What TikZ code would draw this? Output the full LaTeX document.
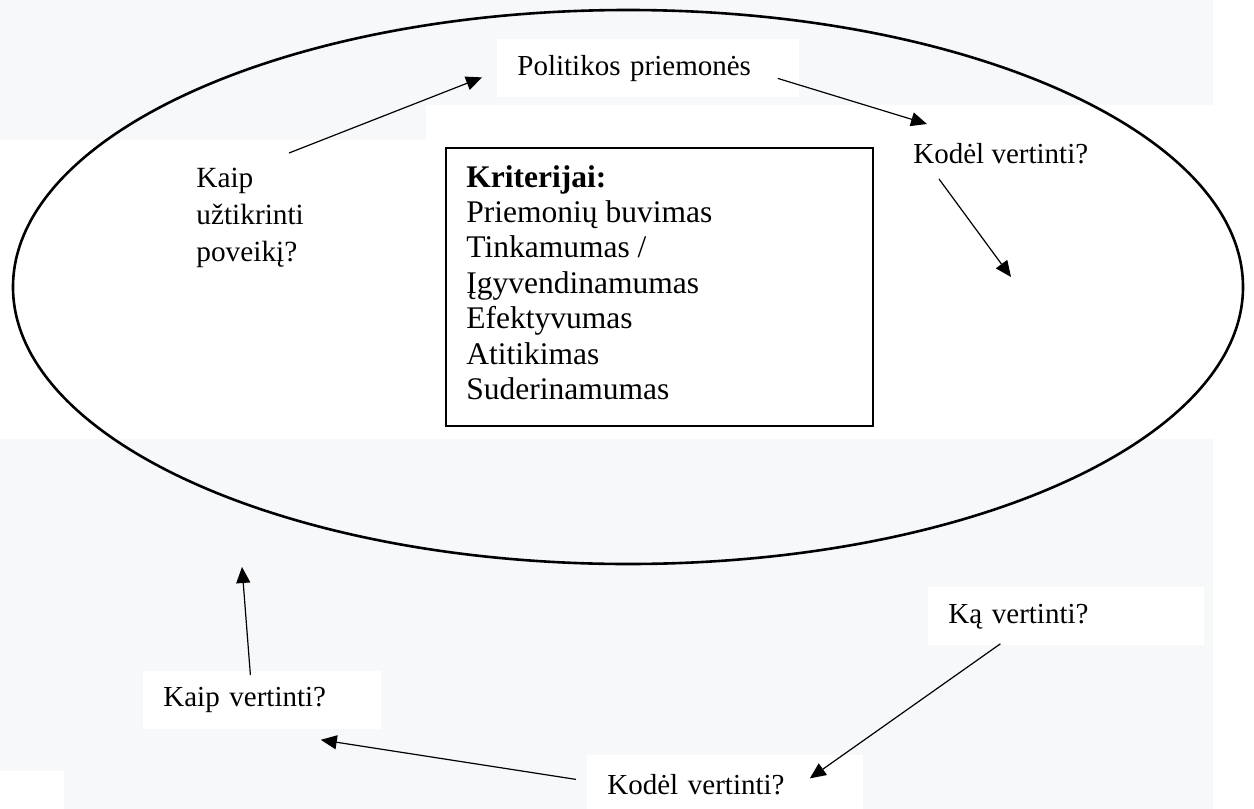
\documentclass[tikz,border=0pt]{standalone}
\usepackage{fontspec}
\setmainfont{Liberation Serif}
\usepackage{xcolor}
\definecolor{BgGray}{RGB}{247,248,250}
\usepackage{tikz}
\usetikzlibrary{shapes.geometric}
\usetikzlibrary{arrows.meta}
\tikzstyle{Box}=[fill=white,anchor=north west,inner xsep=10pt,inner ysep=0pt,
minimum height=29pt,align=left,font=\fontsize{14.5}{17.4}\selectfont]
\tikzstyle{Label}=[anchor=base west,inner sep=0pt,font=\fontsize{14.5}{17.4}\selectfont]
\tikzstyle{Edge}=[draw=black,line width=0.6pt,-{Triangle[length=8pt,width=7pt]}]
\tikzstyle{Frame}=[draw=black,line width=1.1pt,fill=white,anchor=north west,inner sep=0pt]
\tikzstyle{Cycle}=[draw=black,ellipse,line width=1.3pt,inner sep=0pt]

\begin{document}
\begin{tikzpicture}[x=0.5pt,y=-0.5pt]
        \useasboundingbox (0,0) rectangle (1254,809);
        \fill[white] (0,0) rectangle (1254,809);
        \fill[BgGray] (0,0) rectangle (1213,105);
        \fill[BgGray] (0,105) rectangle (426,140);
        \fill[BgGray] (0,439) rectangle (1213,809);
        \fill[white] (0,771) rectangle (64,809);
        \node[Box,text width=131pt](pol)at(497,39){Politikos priemonės};
        \node[Box,text width=99pt](kaipv)at(143,671){Kaip vertinti?};
        \node[Box,text width=118pt](ka)at(928,587){Ką vertinti?};
        \node[Box,text width=118pt](kodelb)at(587,755){Kodėl vertinti?};
        \node[Cycle,minimum width=615pt,minimum height=277pt](cycle)at(628,287){};
        \node[Frame,minimum width=213.5pt,minimum height=139pt](crit)at(445,147){};
        \node[Label,font=\fontsize{15.75}{17.7}\selectfont](critlist)at(466,187){%
            \begin{tabular}[t]{@{}l@{}}\textbf{Kriterijai:}\\ Priemonių buvimas\\ Tinkamumas /\\
            Įgyvendinamumas\\ Efektyvumas\\ Atitikimas\\ Suderinamumas\end{tabular}};
        \node[Label](kodelt)at(913,163){Kodėl vertinti?};
        \node[Label,font=\fontsize{14.65}{18.7}\selectfont](kaipu)at(196,187){%
            \begin{tabular}[t]{@{}l@{}}Kaip\\ užtikrinti\\ poveikį?\end{tabular}};
        \coordinate(kodelend)at(1011,277);
        \coordinate(kaipvend)at(242,567);
        \draw[Edge]([shift={(93,-34)}]kaipu.base west)--([shift={(-15,9)}]pol.west);
        \draw[Edge]([shift={(-22,10)}]pol.east)--([shift={(14,-39)}]kodelt.base west);
        \draw[Edge]([shift={(26,16)}]kodelt.base west)--(kodelend);
        \draw[Edge]([shift={(-66,-2)}]ka.south)--([shift={(-54,-6)}]kodelb.east);
        \draw[Edge]([shift={(-11,-5)}]kodelb.west)--([shift={(-61,10)}]kaipv.south east);
        \draw[Edge]([shift={(-12,4)}]kaipv.north)--(kaipvend);
\end{tikzpicture}
\end{document}
